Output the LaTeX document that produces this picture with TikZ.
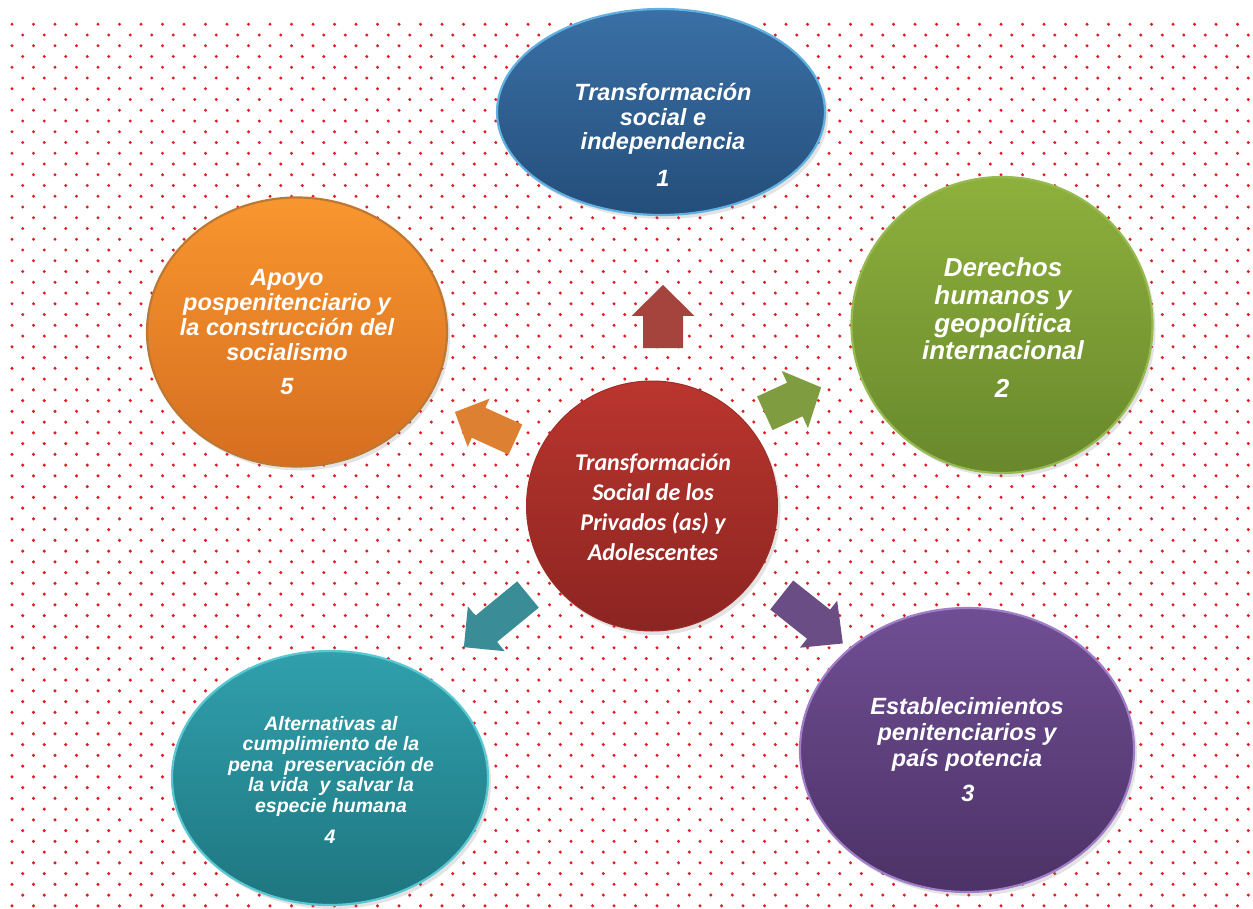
\documentclass[tikz,border=0pt]{standalone}
\usepackage{fontspec}
\setmainfont{Liberation Sans}
\newfontfamily\calib{Carlito}
\usetikzlibrary{shapes.geometric,shadows}
\definecolor{dotred}{RGB}{222,30,36}
\definecolor{blueT}{RGB}{58,112,166}
\definecolor{blueB}{RGB}{36,78,122}
\definecolor{blueR}{RGB}{96,176,226}
\definecolor{greenT}{RGB}{142,176,60}
\definecolor{greenB}{RGB}{104,136,44}
\definecolor{greenR}{RGB}{150,186,80}
\definecolor{orangeT}{RGB}{248,150,46}
\definecolor{orangeB}{RGB}{214,110,32}
\definecolor{orangeR}{RGB}{190,120,50}
\definecolor{purpleT}{RGB}{112,78,148}
\definecolor{purpleB}{RGB}{76,50,102}
\definecolor{purpleR}{RGB}{160,126,200}
\definecolor{tealT}{RGB}{48,160,172}
\definecolor{tealB}{RGB}{30,118,128}
\definecolor{tealR}{RGB}{90,200,210}
\definecolor{redT}{RGB}{186,54,46}
\definecolor{redB}{RGB}{140,36,33}
\definecolor{arUp}{RGB}{165,68,60}
\definecolor{arGreen}{RGB}{128,156,64}
\definecolor{arOrange}{RGB}{221,128,50}
\definecolor{arTeal}{RGB}{58,141,150}
\definecolor{arPurple}{RGB}{106,77,133}
\newcommand{\blkarrow}[7]{%
  \fill[#7,shift={(#1)},rotate=#2]
    (0,{-#4/2}) -- ({#3-#6},{-#4/2}) -- ({#3-#6},{-#5/2}) -- (#3,0)
    -- ({#3-#6},{#5/2}) -- ({#3-#6},{#4/2}) -- (0,{#4/2}) -- cycle;}
\tikzset{
  bubble/.style={ellipse, inner sep=0pt, shade, line width=2.2pt,
    drop shadow={opacity=0.22, shadow xshift=3pt, shadow yshift=-4pt}},
  bubtext/.style={text=white, align=center, inner sep=0pt,
    font=\bfseries\itshape},
}
\begin{document}
\begin{tikzpicture}[x=1pt,y=-1pt]
\useasboundingbox (0,0) rectangle (1253,909);
\fill[white] (0,0) rectangle (1253,909);
\begin{scope}
\clip (0,0) rectangle (1253,909);
\foreach \r in {0,...,41}{
  \foreach \c in {0,...,58}{
    \fill[dotred] ({12+\c*21.5},{24.3+\r*21.5}) circle (1.7);
    \fill[dotred] ({22.75+\c*21.5},{35.05+\r*21.5}) circle (1.7);
  }
}
\end{scope}

% block arrows
\blkarrow{663,348}{90}{63}{40}{63}{31}{arUp}
\blkarrow{764.8,413.3}{24.7}{62}{37}{63}{29}{arGreen}
\blkarrow{781.7,595}{-38.4}{78}{37}{60}{31}{arPurple}
\blkarrow{528,594.5}{219.4}{83}{34}{58}{29}{arTeal}
\blkarrow{515.5,439.5}{155.6}{66.5}{33}{53}{26}{arOrange}

% ellipses
\node[bubble, minimum width=328pt, minimum height=206pt,
  top color=blueT, bottom color=blueB, draw=blueR] (e1) at (661,112) {};
\node[bubble, minimum width=301pt, minimum height=296pt,
  top color=greenT, bottom color=greenB, draw=greenR] (e2) at (1002,325) {};
\node[bubble, minimum width=334pt, minimum height=284pt,
  top color=purpleT, bottom color=purpleB, draw=purpleR] (e3) at (967,750) {};
\node[bubble, minimum width=316pt, minimum height=254pt,
  top color=tealT, bottom color=tealB, draw=tealR] (e4) at (330,778) {};
\node[bubble, minimum width=300pt, minimum height=269pt,
  top color=orangeT, bottom color=orangeB, draw=orangeR] (e5) at (297,332) {};
\node[bubble, minimum width=251pt, minimum height=250pt,
  top color=redT, bottom color=redB, draw=redT!85!black, line width=1pt] (c) at (652,506) {};

% texts
\node[bubtext, font=\bfseries\itshape\fontsize{23.5}{24.5}\selectfont] (t1) at (663,119)
  {Transformación\\social e\\independencia};
\node[bubtext, font=\bfseries\itshape\fontsize{23.5}{24.5}\selectfont] (n1) at (663,178) {1};

\node[bubtext, font=\bfseries\itshape\fontsize{26}{27.7}\selectfont] (t2) at (1003,309)
  {Derechos\\humanos y\\geopolítica\\internacional};
\node[bubtext, font=\bfseries\itshape\fontsize{26}{27.7}\selectfont] (n2) at (1002,388) {2};

\node[bubtext, font=\bfseries\itshape\fontsize{23.5}{26}\selectfont] (t3) at (967,734)
  {Establecimientos\\penitenciarios y\\país potencia};
\node[bubtext, font=\bfseries\itshape\fontsize{23.5}{26}\selectfont] (n3) at (968,793) {3};

\node[bubtext, font=\bfseries\itshape\fontsize{19.5}{20.5}\selectfont] (t4) at (331,766)
  {Alternativas al\\cumplimiento de la\\pena\ \ preservación de\\la vida\ \ y salvar la\\especie humana};
\node[bubtext, font=\bfseries\itshape\fontsize{19.5}{20.5}\selectfont] (n4) at (330,837) {4};

\node[bubtext, font=\bfseries\itshape\fontsize{23.5}{24.7}\selectfont] (t5) at (287,315)
  {Apoyo\\pospenitenciario y\\la construcción del\\socialismo};
\node[bubtext, font=\bfseries\itshape\fontsize{23.5}{24.7}\selectfont] (n5) at (287,387) {5};

\node[bubtext, font=\calib\bfseries\itshape\fontsize{24}{30}\selectfont] (tc) at (653,507)
  {Transformación\\Social de los\\Privados (as) y\\Adolescentes};
\end{tikzpicture}
\end{document}
